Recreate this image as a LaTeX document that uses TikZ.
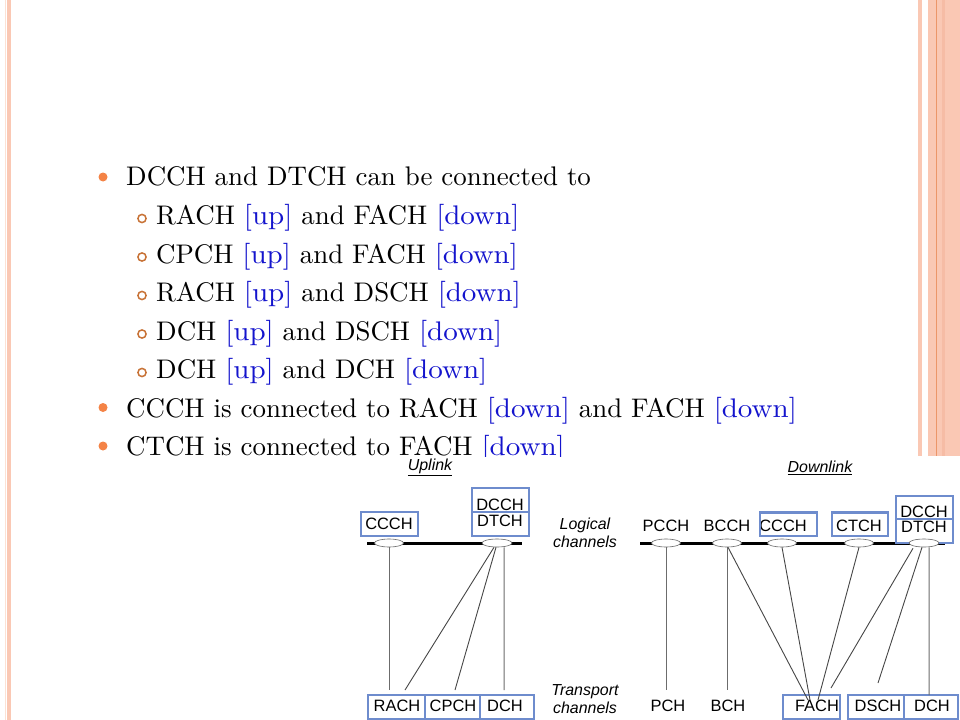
\documentclass[tikz,border=0pt]{standalone}
\usepackage{fontspec}
\usepackage{graphicx}
\setmainfont{lmroman10-regular}[Extension=.otf,ItalicFont=lmroman10-italic]
\newfontfamily\diagfont{Liberation Sans}
\usetikzlibrary{shapes.geometric}
\definecolor{stripe}{RGB}{250,200,180}
\definecolor{stripelt}{RGB}{252,225,212}
\definecolor{stripedk}{RGB}{236,150,105}
\definecolor{stripemd}{RGB}{246,188,165}
\definecolor{bulletor}{RGB}{244,131,70}
\definecolor{ringor}{RGB}{200,115,55}
\definecolor{updown}{RGB}{20,20,205}
\definecolor{boxblue}{RGB}{110,140,205}
\definecolor{conn}{RGB}{70,70,70}
\begin{document}
\begin{tikzpicture}[x=1bp,y=-1bp,
  bodytext/.style={anchor=base west,inner sep=0pt,font=\fontsize{27}{32}\selectfont},
  lbl/.style={inner sep=0pt,font=\diagfont\fontsize{16.5}{18}\selectfont},
  ilbl/.style={inner sep=0pt,align=center,font=\diagfont\itshape\fontsize{16}{17.5}\selectfont},
  hl/.style={draw=boxblue,line width=2.6bp},
  chan/.style={ellipse,draw=gray!80!black,fill=white,line width=0.6bp,minimum width=29bp,minimum height=8bp,inner sep=0pt},
  bar/.style={line width=3bp,black},
  link/.style={draw=conn,line width=0.9bp},
  vlink/.style={draw=gray!85!black,line width=1bp}]
\useasboundingbox (0,0) rectangle (960,720);
\fill[white] (0,0) rectangle (960,720);
% side stripes
\fill[stripelt] (5,0) rectangle (6.2,720);
\fill[stripe] (7.3,0) rectangle (11,720);
\fill[stripe] (918,0) rectangle (922,456);
\fill[stripe] (928,0) rectangle (960,456);
\fill[stripemd] (942,0) rectangle (945,456);
\draw[stripedk,line width=0.8bp] (936.7,0) -- (936.7,456);
% bullets text
\newcommand{\ud}[1]{\textcolor{updown}{\scalebox{1.08}[1]{#1}}}
\node[bodytext] (t1) at (126,186) {DCCH and DTCH can be connected to};
\node[bodytext] (t2) at (156,224.5) {RACH \ud{[up]} and FACH \ud{[down]}};
\node[bodytext] (t3) at (156,263) {CPCH \ud{[up]} and FACH \ud{[down]}};
\node[bodytext] (t4) at (156,301.5) {RACH \ud{[up]} and DSCH \ud{[down]}};
\node[bodytext] (t5) at (156,340) {DCH \ud{[up]} and DSCH \ud{[down]}};
\node[bodytext] (t6) at (156,378.5) {DCH \ud{[up]} and DCH \ud{[down]}};
\node[bodytext] (t7) at (126,417) {CCCH is connected to RACH \ud{[down]} and FACH \ud{[down]}};
\node[bodytext] (t8) at (126,455) {CTCH is connected to FACH \ud{[down]}};
\foreach \yy in {177,407.5,446}{\fill[bulletor] (103,\yy) circle (4.5);}
\foreach \yy in {218.5,257,295.5,334,372.5}{\draw[ringor,line width=1.5bp] (142,\yy) circle (4.1);}
% picture area
\fill[white] (355,457) rectangle (960,720);
% ---------- Uplink ----------
\node[ilbl] (uplink) at (430,467.5) {\underline{Uplink}};
\draw[bar] (367,543) -- (522,543);
\node[lbl] (ccchU) at (389,524) {CCCH};
\node[lbl] (dcchU) at (500,505) {DCCH};
\node[lbl] (dtchU) at (500,521) {DTCH};
\draw[hl] (361,512) rectangle (418,536);
\draw[hl] (472,488) rectangle (529,512);
\draw[hl] (472,512) rectangle (529,536);
\node[chan] (eU1) at (389,543) {};
\node[chan,minimum width=30bp] (eU2) at (497,543) {};
\node[ilbl] (logU) at (585,533) {Logical\\channels};
\node[ilbl] (trU) at (585,699) {Transport\\channels};
\node[lbl] (rach) at (397,705.5) {RACH};
\node[lbl] (cpch) at (453,705.5) {CPCH};
\node[lbl] (dchU) at (505,705.5) {DCH};
\draw[hl] (368,695) rectangle (425,719);
\draw[hl] (425,695) rectangle (480,719);
\draw[hl] (480,695) rectangle (534,719);
\coordinate (rachT) at (389,690);
\coordinate (rachT2) at (405,690);
\coordinate (cpchT) at (455,690);
\coordinate (dchUT) at (504,690);
\draw[vlink] (eU1.south) -- (rachT);
\draw[link] ([xshift=-3bp]eU2.south) -- (rachT2);
\draw[link] ([xshift=-1bp]eU2.south) -- (cpchT);
\draw[vlink] ([xshift=7bp]eU2.south) -- (dchUT);
% ---------- Downlink ----------
\node[ilbl] (downlink) at (820,467.5) {\underline{Downlink}};
\draw[bar] (640,543) -- (945,543);
\node[lbl] (pcch) at (666,526) {PCCH};
\node[lbl] (bcch) at (727,526) {BCCH};
\node[lbl] (ccchD) at (783,526) {CCCH};
\node[lbl] (ctch) at (859,526) {CTCH};
\node[lbl] (dtchD) at (924,527) {DTCH};
\draw[hl] (760,512.5) rectangle (817,536);
\draw[hl] (832,512.5) rectangle (888,536);
\draw[hl] (896,519) rectangle (953,543);
\draw[fill=white,draw=none] (897.5,497.5) rectangle (951.5,518);
\node[lbl] (dcchD) at (924,511.5) {DCCH};
\draw[hl] (896,496) rectangle (953,519);
\node[chan] (eD1) at (666,543) {};
\node[chan] (eD2) at (727,543) {};
\node[chan] (eD3) at (782,543) {};
\node[chan] (eD4) at (859,543) {};
\node[chan,minimum width=30bp] (eD5) at (924,543) {};
\node[lbl] (pch) at (668,705.5) {PCH};
\node[lbl] (bch) at (728,705.5) {BCH};
\node[lbl] (fach) at (817,705.5) {FACH};
\node[lbl] (dsch) at (878,705.5) {DSCH};
\node[lbl] (dchD) at (932,705.5) {DCH};
\draw[hl] (783,695) rectangle (840,719);
\draw[hl] (848,695) rectangle (904,719);
\draw[hl] (904,695) rectangle (958,719);
\coordinate (pchT) at (666,690);
\coordinate (bchT) at (727,690);
\coordinate (fachT1) at (808,700);
\coordinate (fachT2) at (810,700);
\coordinate (fachT3) at (818,700);
\coordinate (fachT4) at (831,688);
\coordinate (dschT) at (878,683);
\coordinate (dchDT) at (929,695);
\draw[vlink] (eD1.south) -- (pchT);
\draw[vlink] (eD2.south) -- (bchT);
\draw[link] ([xshift=1bp]eD2.south) -- (fachT1);
\draw[link] (eD3.south) -- (fachT2);
\draw[link] (eD4.south) -- (fachT3);
\draw[link] ([xshift=-11bp,yshift=-1bp]eD5.south) -- (fachT4);
\draw[link] ([xshift=-2bp]eD5.south) -- (dschT);
\draw[vlink] ([xshift=5bp]eD5.south) -- (dchDT);
\end{tikzpicture}
\end{document}
